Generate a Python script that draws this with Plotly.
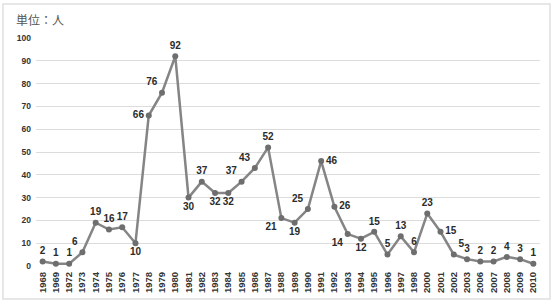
import plotly.graph_objects as go

years = ["1968", "1969", "1972", "1973", "1974", "1975", "1976", "1977", "1978", "1979",
         "1980", "1981", "1982", "1983", "1984", "1985", "1986", "1987", "1988", "1989",
         "1990", "1991", "1992", "1993", "1994", "1995", "1996", "1997", "1998", "2000",
         "2001", "2002", "2003", "2006", "2007", "2008", "2009", "2010"]
counts = [2, 1, 1, 6, 19, 16, 17, 10, 66, 76,
          92, 30, 37, 32, 32, 37, 43, 52, 21, 19,
          25, 46, 26, 14, 12, 15, 5, 13, 6, 23,
          15, 5, 3, 2, 2, 4, 3, 1]
label_pos = ["top center", "top center", "top center", "top left", "top center", "top center",
             "top center", "bottom center", "middle left", "top left",
             "top center", "bottom center", "top center", "bottom center", "bottom center",
             "top left", "top left", "top center", "bottom left", "bottom center",
             "top left", "middle right", "middle right", "bottom left", "bottom center",
             "top center", "top center", "top center", "top center", "top center",
             "middle right", "top right", "top center", "top center", "top center",
             "top center", "top center", "top center"]
yticks = [0, 10, 20, 30, 40, 50, 60, 70, 80, 90, 100]
unit_label = "単位：人"

fig = go.Figure()
fig.add_trace(go.Scatter(
    x=years, y=counts, mode="lines+markers+text",
    line=dict(color="#858585", width=2.5),
    marker=dict(color="#6e6e6e", size=6),
    text=[str(v) for v in counts], textposition=label_pos,
    textfont=dict(family="Liberation Sans, Arial", size=10, color="#2b2b2b", weight="bold"),
    cliponaxis=False, hoverinfo="skip", showlegend=False,
))

L, R, T, B = 36, 12, 38, 34
W, H = 552, 300
pw, ph = W - L - R, H - T - B

def px_to_paper_x(px):
    return (px - L) / pw

def px_to_paper_y(py):
    return (H - B - py) / ph

fig.update_layout(
    width=W, height=H,
    margin=dict(l=L, r=R, t=T, b=B),
    plot_bgcolor="white", paper_bgcolor="white",
    xaxis=dict(type="category", range=[-0.5, len(years) - 0.5], tickangle=-90, automargin=False,
               tickfont=dict(family="Liberation Sans, Arial", size=9.5, color="#333333", weight="bold"),
               showgrid=False, showline=False, ticks="", ticklen=0, ticklabelstandoff=3),
    yaxis=dict(range=[0, 100], tickvals=yticks, showgrid=True, gridcolor="#dcdcdc", gridwidth=1,
               zeroline=False, showline=False, ticks="", ticklabelstandoff=4, automargin=False,
               tickfont=dict(family="Liberation Sans, Arial", size=8.5, color="#333333", weight="bold")),
    shapes=[dict(type="rect", xref="paper", yref="paper",
                 x0=px_to_paper_x(3), x1=px_to_paper_x(550),
                 y0=px_to_paper_y(299), y1=px_to_paper_y(4),
                 line=dict(color="#e0e0e0", width=1.5), layer="below")],
    annotations=[dict(text=unit_label, xref="paper", yref="paper",
                      x=px_to_paper_x(14), y=px_to_paper_y(20), xanchor="left", yanchor="middle",
                      showarrow=False,
                      font=dict(family="Noto Sans CJK JP", size=12, color="#555555"))],
)
fig.write_html("out.html")
